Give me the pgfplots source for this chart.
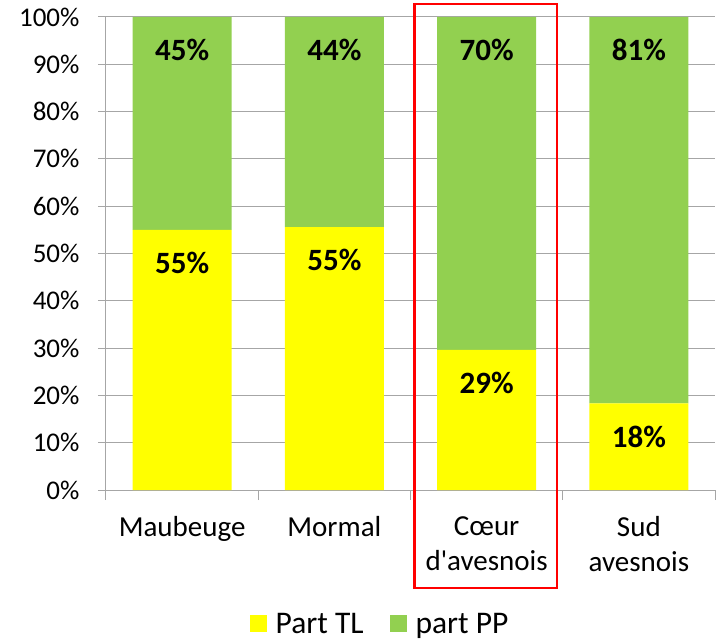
\documentclass[border=0pt]{standalone}
\usepackage{fontspec}
\setmainfont{Carlito}
\usepackage{pgfplots}
\pgfplotsset{compat=1.18}
\definecolor{tlYellow}{HTML}{FFFF00}
\definecolor{ppGreen}{HTML}{92D050}
\definecolor{axisGrey}{HTML}{A6A6A6}

\begin{document}
\begin{tikzpicture}
\begin{axis}[
    scale only axis, width=609pt, height=473pt,
    ybar stacked, bar width=99pt,
    xmin=-0.5, xmax=3.5, ymin=0, ymax=100,
    clip=false,
    axis x line*=bottom, axis y line*=left,
    axis line style={axisGrey, line width=1pt},
    tick align=outside,
    tick style={axisGrey, line width=1pt},
    major tick length=8pt, minor tick length=10pt,
    xtick={0,1,2,3},
    xticklabels={Maubeuge, Mormal, {Cœur\\d\textquotesingle avesnois}, {Sud\\avesnois}},
    xticklabel style={align=center, anchor=north, yshift=-15pt,
        font=\fontsize{29}{35}\selectfont},
    major x tick style={draw=none},
    minor xtick={-0.5,0.5,1.5,2.5,3.5},
    ytick={0,10,...,100},
    yticklabels={0\%,10\%,20\%,30\%,40\%,50\%,60\%,70\%,80\%,90\%,100\%},
    yticklabel style={anchor=east, xshift=-15pt, font=\fontsize{27}{33}\selectfont},
    ymajorgrids=true, grid style={axisGrey, line width=1pt},
    point meta=explicit symbolic,
    visualization depends on={rawy \as \segh},
    nodes near coords,
    every node near coord/.append style={anchor=center,
        yshift=\segh*2.365pt-33pt,
        font=\bfseries\fontsize{31}{37}\selectfont, text=black},
    legend style={at={(0.45,-0.283)}, anchor=center, draw=none,
        legend columns=-1, font=\fontsize{31.5}{37}\selectfont,
        nodes={inner ysep=0.5pt},
        /tikz/every even column/.append style={column sep=24pt}},
]
\coordinate (o) at (rel axis cs:0,0);
% Part TL
\addplot[fill=tlYellow, draw=none,
    legend image code/.code={\fill[tlYellow] (0pt,-8.5pt) rectangle (17pt,8.5pt);
        \path (24pt,0pt);}]
    coordinates {(0,55.0) [55\%] (1,55.6) [55\%] (2,29.6) [29\%] (3,18.3) [18\%]};
% part PP
\addplot[fill=ppGreen, draw=none,
    legend image code/.code={\fill[ppGreen] (0pt,-8.5pt) rectangle (17pt,8.5pt);
        \path (24pt,0pt);}]
    coordinates {(0,45.0) [45\%] (1,44.4) [44\%] (2,70.4) [70\%] (3,81.7) [81\%]};
\legend{Part TL, part PP}
\draw[red, line width=2.5pt] (axis cs:1.526,-20.76) rectangle (axis cs:2.461,102.75);
\end{axis}
\pgfresetboundingbox
\path (o) ++(-106pt,-150pt) rectangle ++(720pt,640pt);
\end{tikzpicture}
\end{document}
